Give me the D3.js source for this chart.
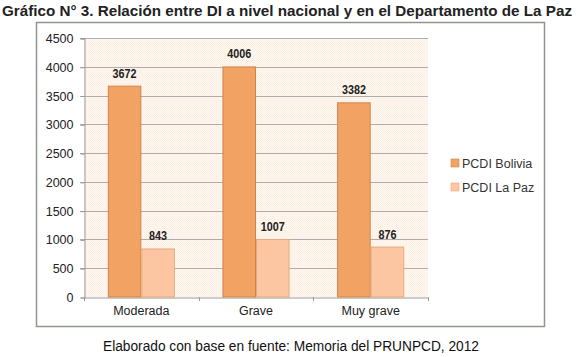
<!DOCTYPE html>
<html>
<head>
<meta charset="utf-8">
<script src="https://cdn.jsdelivr.net/npm/d3@7"></script>
<style>
  body { margin: 0; background: #fff; }
  svg { display: block; font-family: Arial, "Liberation Sans", sans-serif; }
</style>
</head>
<body>
<div id="chart"></div>
<script>
'use strict';

const categories = ["Moderada", "Grave", "Muy grave"];
const seriesNames = ["PCDI Bolivia", "PCDI La Paz"];
const boliviaValues = [3672, 4006, 3382];
const lapazValues = [843, 1007, 876];
const yTicks = [0, 500, 1000, 1500, 2000, 2500, 3000, 3500, 4000, 4500];

const titleText = "Gráfico N° 3. Relación entre DI a nivel nacional y en el Departamento de La Paz";
const captionText = "Elaborado con base en fuente: Memoria del PRUNPCD, 2012";

const colors = {fill: ["#f2a364", "#fcc6a2"], stroke: ["#d3834a", "#eaa77c"]};

const width = 579, height = 357;
const plot = {left: 84, right: 428, top: 38, bottom: 297};

const svg = d3.select("#chart").append("svg")
    .attr("width", width)
    .attr("height", height);

// title
svg.append("text")
    .attr("x", 2).attr("y", 16)
    .attr("font-weight", "bold")
    .attr("font-size", 14)
    .attr("fill", "#222")
    .attr("textLength", 570)
    .attr("lengthAdjust", "spacingAndGlyphs")
    .text(titleText);

// chart frame
svg.append("rect")
    .attr("x", 36.5).attr("y", 22.5)
    .attr("width", 508).attr("height", 304)
    .attr("fill", "#fff")
    .attr("stroke", "#8f968f")
    .attr("stroke-width", 1.5);

// plot background (dithered cream)
const pattern = svg.append("defs").append("pattern")
    .attr("id", "dots").attr("width", 2).attr("height", 2)
    .attr("patternUnits", "userSpaceOnUse");
pattern.append("rect").attr("width", 2).attr("height", 2).attr("fill", "#fff8f0");
pattern.append("rect").attr("width", 1).attr("height", 1).attr("fill", "#fcebe4");
pattern.append("rect").attr("x", 1).attr("y", 1).attr("width", 1).attr("height", 1).attr("fill", "#fdf3e2");

svg.append("rect")
    .attr("x", plot.left).attr("y", plot.top)
    .attr("width", plot.right - plot.left).attr("height", plot.bottom - plot.top)
    .attr("fill", "url(#dots)");

const y = d3.scaleLinear().domain([0, 4500]).range([plot.bottom, plot.top]);
const x0 = d3.scaleBand().domain(categories).range([plot.left, plot.right]);
const x1 = d3.scaleBand().domain(seriesNames).range([0, x0.bandwidth()]).paddingOuter(0.71);

// grid lines
svg.append("g")
    .selectAll("line")
    .data(yTicks.filter(d => d > 0))
    .join("line")
    .attr("x1", plot.left - 4).attr("x2", plot.right)
    .attr("y1", d => Math.round(y(d)) + 0.5).attr("y2", d => Math.round(y(d)) + 0.5)
    .attr("stroke", "#adadad");

// y axis
const yAxis = svg.append("g")
    .attr("transform", `translate(${plot.left + 0.5},0.5)`)
    .call(d3.axisLeft(y).tickValues(yTicks).tickFormat(d3.format("d")).tickSize(4).tickPadding(7));
yAxis.select(".domain").attr("stroke", "#9a9a9a");
yAxis.selectAll(".tick line").attr("stroke", "#9a9a9a");
yAxis.selectAll("text").attr("font-size", 12.5).attr("fill", "#222")
    .attr("font-family", "Arial, 'Liberation Sans', sans-serif");

// x axis
const xAxis = svg.append("g")
    .attr("transform", `translate(0,${plot.bottom + 0.5})`)
    .call(d3.axisBottom(x0).tickSize(0).tickPadding(9));
xAxis.select(".domain").attr("stroke", "#9a9a9a");
xAxis.selectAll("text").attr("font-size", 12.5).attr("fill", "#222")
    .attr("font-family", "Arial, 'Liberation Sans', sans-serif");
svg.append("g")
    .selectAll("line")
    .data(d3.range(categories.length + 1))
    .join("line")
    .attr("x1", i => Math.round(plot.left + i * x0.step()) + 0.5)
    .attr("x2", i => Math.round(plot.left + i * x0.step()) + 0.5)
    .attr("y1", plot.bottom).attr("y2", plot.bottom + 4)
    .attr("stroke", "#9a9a9a");

// bars
const seriesValues = [boliviaValues, lapazValues];
const groups = svg.append("g")
    .selectAll("g")
    .data(categories)
    .join("g")
    .attr("transform", d => `translate(${x0(d)},0)`);

groups.selectAll("rect")
    .data((d, i) => seriesNames.map((s, j) => ({s, j, v: seriesValues[j][i]})))
    .join("rect")
    .attr("x", d => x1(d.s) + 0.5)
    .attr("y", d => y(d.v) + 0.5)
    .attr("width", x1.bandwidth() - 1)
    .attr("height", d => plot.bottom - y(d.v) - 0.5)
    .attr("fill", d => colors.fill[d.j])
    .attr("stroke", d => colors.stroke[d.j]);

// value labels, narrow bold
groups.selectAll("text")
    .data((d, i) => seriesNames.map((s, j) => ({s, j, v: seriesValues[j][i]})))
    .join("text")
    .attr("x", d => x1(d.s) + x1.bandwidth() / 2)
    .attr("y", d => y(d.v) - 8)
    .attr("text-anchor", "middle")
    .attr("font-weight", "bold")
    .attr("font-size", 13)
    .attr("fill", "#222")
    .attr("textLength", d => String(d.v).length * 6)
    .attr("lengthAdjust", "spacingAndGlyphs")
    .text(d => d.v);

// legend
const legend = svg.append("g")
    .selectAll("g")
    .data(seriesNames)
    .join("g")
    .attr("transform", (d, i) => `translate(451,${159 + i * 24})`);
legend.append("rect")
    .attr("width", 8).attr("height", 8)
    .attr("fill", (d, i) => colors.fill[i])
    .attr("stroke", (d, i) => colors.stroke[i])
    .attr("stroke-width", 0.6);
legend.append("text")
    .attr("x", 11).attr("y", 8.5)
    .attr("font-size", 12.5)
    .attr("fill", "#333")
    .text(d => d);

// caption
svg.append("text")
    .attr("x", 103).attr("y", 351)
    .attr("font-size", 14)
    .attr("fill", "#111")
    .attr("textLength", 376)
    .attr("lengthAdjust", "spacingAndGlyphs")
    .text(captionText);
</script>
</body>
</html>
